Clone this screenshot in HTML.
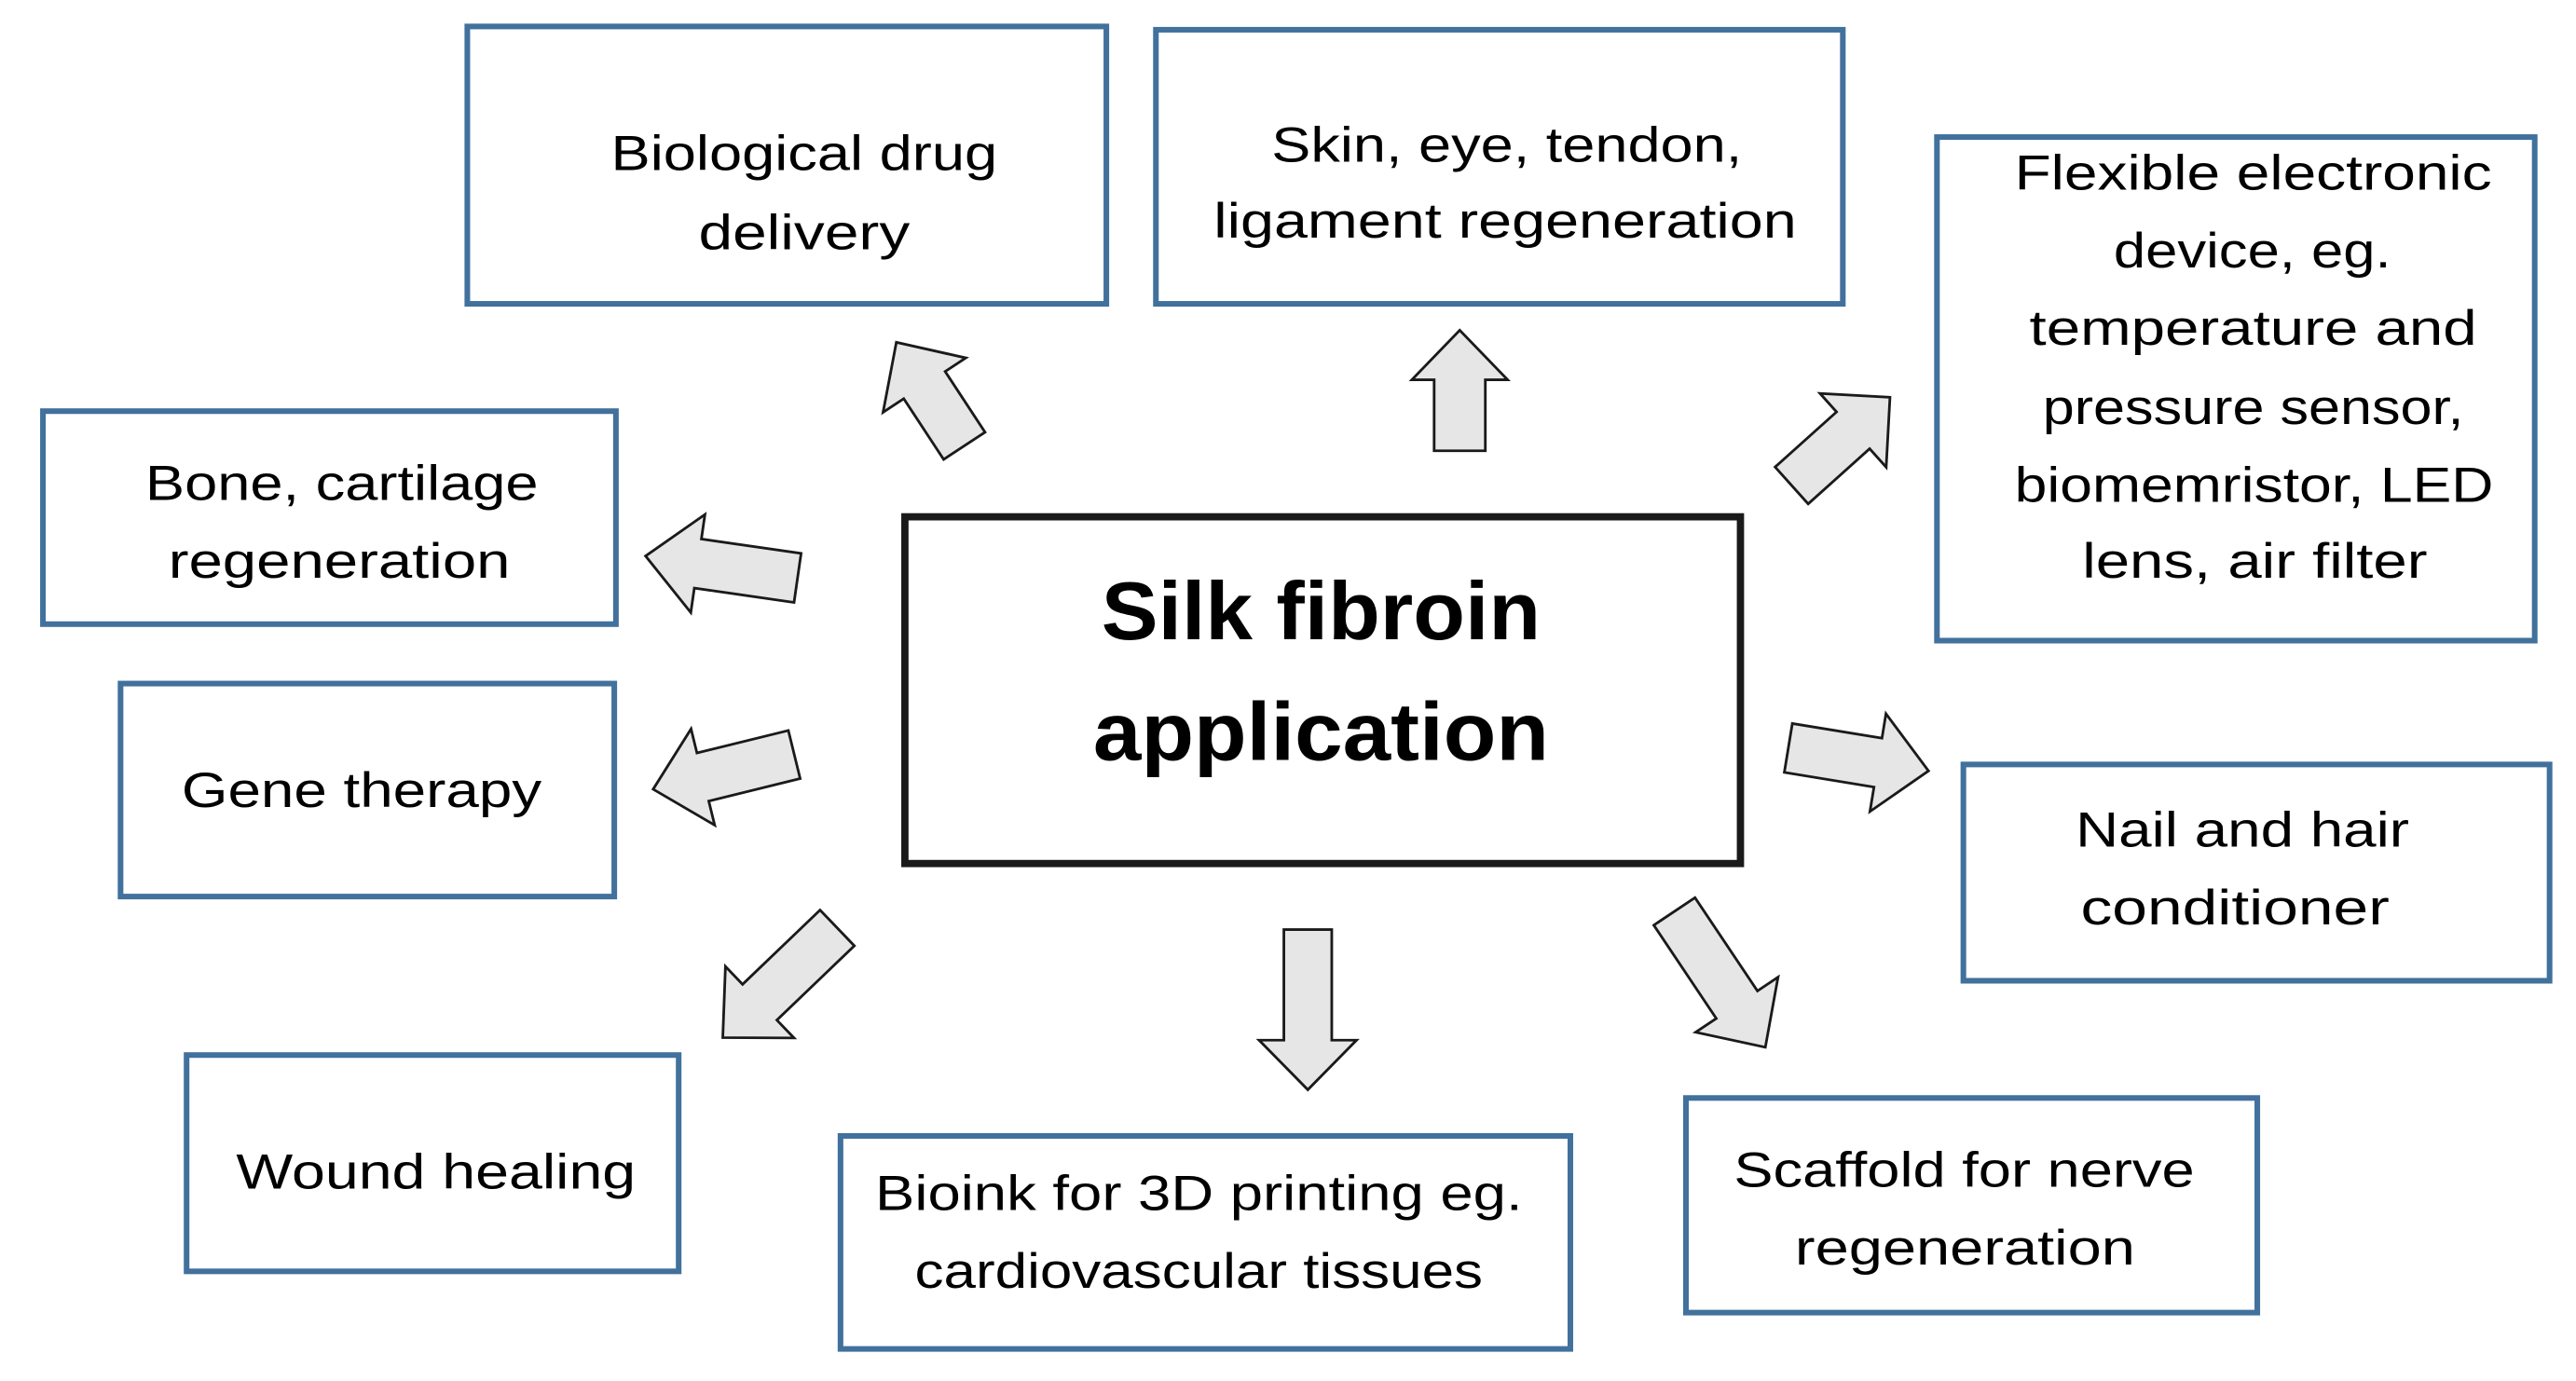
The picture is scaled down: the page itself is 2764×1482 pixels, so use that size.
<!DOCTYPE html>
<html><head><meta charset="utf-8"><style>
html,body{margin:0;padding:0;background:#fff;}
svg{display:block;}
text{font-family:"Liberation Sans",sans-serif;fill:#000;}
</style></head><body>
<svg width="2764" height="1482" viewBox="0 0 1560 836.4" xmlns="http://www.w3.org/2000/svg">
<defs>
<g id="a"><polygon points="0,-15 0,15" /></g>
</defs>
<g fill="none" stroke="#41719c" stroke-width="3.4">
<rect x="283" y="16" width="387" height="168"/>
<rect x="700" y="18" width="416" height="166"/>
<rect x="1173" y="83" width="362" height="305"/>
<rect x="26" y="249" width="347" height="129"/>
<rect x="73" y="414" width="299" height="129"/>
<rect x="1189" y="463" width="355" height="131"/>
<rect x="113" y="639" width="298" height="131"/>
<rect x="509" y="688" width="442" height="129"/>
<rect x="1021" y="665" width="346" height="130"/>
</g>
<rect x="548" y="313" width="506" height="210" fill="none" stroke="#1a1a1a" stroke-width="4.4"/>
<g fill="#e6e6e6" stroke="#1a1a1a" stroke-width="1.6" stroke-linejoin="miter">
<!-- arrows: local shape pointing +x, tail at 0 -->
<polygon transform="translate(584,270) rotate(-123.3)" points="0,-15 44,-15 44,-30 75,0 44,30 44,15 0,15"/>
<polygon transform="translate(884,273) rotate(-90)" points="0,-15.5 43,-15.5 43,-29 73,0 43,29 43,15.5 0,15.5"/>
<polygon transform="translate(1085,294) rotate(-41.9)" points="0,-15 50,-15 50,-30 80,0 50,30 50,15 0,15"/>
<polygon transform="translate(483,350) rotate(-171.8)" points="0,-15 61,-15 61,-30 93,0 61,30 61,15 0,15"/>
<polygon transform="translate(481,457) rotate(166.2)" points="0,-15 57,-15 57,-30 88,0 57,30 57,15 0,15"/>
<polygon transform="translate(1083,453) rotate(9.3)" points="0,-15 55,-15 55,-30 86,0 55,30 55,15 0,15"/>
<polygon transform="translate(507,562) rotate(136.2)" points="0,-15 65,-15 65,-30 96,0 65,30 65,15 0,15"/>
<polygon transform="translate(792,563) rotate(90)" points="0,-14.5 67,-14.5 67,-29.5 97,0 67,29.5 67,14.5 0,14.5"/>
<polygon transform="translate(1014,552) rotate(56.2)" points="0,-15 68,-15 68,-30 99,0 68,30 68,15 0,15"/>
</g>
<g font-size="30" dominant-baseline="central" lengthAdjust="spacingAndGlyphs">
<text x="370" y="93" textLength="234" lengthAdjust="spacingAndGlyphs">Biological drug</text>
<text x="423" y="141" textLength="128" lengthAdjust="spacingAndGlyphs">delivery</text>
<text x="770" y="88" textLength="285" lengthAdjust="spacingAndGlyphs">Skin, eye, tendon,</text>
<text x="735" y="134" textLength="353" lengthAdjust="spacingAndGlyphs">ligament regeneration</text>
<text x="1220" y="105" textLength="289" lengthAdjust="spacingAndGlyphs">Flexible electronic</text>
<text x="1280" y="152" textLength="168" lengthAdjust="spacingAndGlyphs">device, eg.</text>
<text x="1229" y="199" textLength="271" lengthAdjust="spacingAndGlyphs">temperature and</text>
<text x="1237" y="247" textLength="255" lengthAdjust="spacingAndGlyphs">pressure sensor,</text>
<text x="1220" y="294" textLength="290" lengthAdjust="spacingAndGlyphs">biomemristor, LED</text>
<text x="1261" y="340" textLength="209" lengthAdjust="spacingAndGlyphs">lens, air filter</text>
<text x="88" y="293" textLength="238" lengthAdjust="spacingAndGlyphs">Bone, cartilage</text>
<text x="102" y="340" textLength="207" lengthAdjust="spacingAndGlyphs">regeneration</text>
<text x="110" y="479" textLength="218" lengthAdjust="spacingAndGlyphs">Gene therapy</text>
<text x="1257" y="503" textLength="202" lengthAdjust="spacingAndGlyphs">Nail and hair</text>
<text x="1260" y="550" textLength="187" lengthAdjust="spacingAndGlyphs">conditioner</text>
<text x="143" y="710" textLength="242" lengthAdjust="spacingAndGlyphs">Wound healing</text>
<text x="530" y="723" textLength="392" lengthAdjust="spacingAndGlyphs">Bioink for 3D printing eg.</text>
<text x="554" y="770" textLength="344" lengthAdjust="spacingAndGlyphs">cardiovascular tissues</text>
<text x="1050" y="709" textLength="279" lengthAdjust="spacingAndGlyphs">Scaffold for nerve</text>
<text x="1087" y="756" textLength="206" lengthAdjust="spacingAndGlyphs">regeneration</text>
</g>
<g font-size="50" font-weight="bold" dominant-baseline="central">
<text x="667" y="370" textLength="266" lengthAdjust="spacingAndGlyphs">Silk fibroin</text>
<text x="662" y="443" textLength="276" lengthAdjust="spacingAndGlyphs">application</text>
</g>
</svg>
</body></html>
